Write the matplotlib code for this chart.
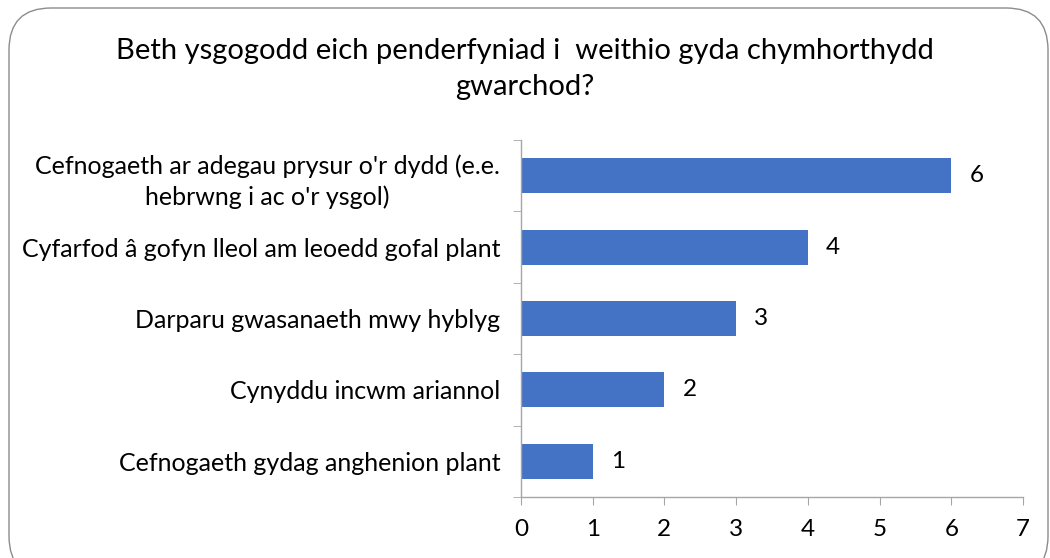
import matplotlib
matplotlib.use("Agg")
import matplotlib.pyplot as plt
from matplotlib.patches import FancyBboxPatch

categories = [
    "Cefnogaeth ar adegau prysur o'r dydd (e.e.\nhebrwng i ac o'r ysgol)",
    "Cyfarfod â gofyn lleol am leoedd gofal plant",
    "Darparu gwasanaeth mwy hyblyg",
    "Cynyddu incwm ariannol",
    "Cefnogaeth gydag anghenion plant",
]
values = [6, 4, 3, 2, 1]
title = "Beth ysgogodd eich penderfyniad i  weithio gyda chymhorthydd\ngwarchod?"
xticks = [0, 1, 2, 3, 4, 5, 6, 7]

plt.rcParams['font.family'] = ['Lato', 'DejaVu Sans']

W, H = 1050, 558
fig = plt.figure(figsize=(W / 100, H / 100), dpi=100)

# rounded border
border = FancyBboxPatch((9 / W, -20 / H), (1048 - 9) / W, (558 - 8 + 20) / H,
                        boxstyle="round,pad=0,rounding_size=0.04",
                        transform=fig.transFigure, facecolor="none",
                        edgecolor="#8c8c8c", linewidth=1.0, mutation_aspect=W / H,
                        zorder=-5)
fig.patches.append(border)

left, right = 521 / W, 1023 / W
bottom, top = 1 - 497 / H, 1 - 140 / H
ax = fig.add_axes([left, bottom, right - left, top - bottom])
ax.set_facecolor("none")

ypos = list(range(len(categories)))[::-1]
bars = ax.barh(ypos, values, height=0.49, color="#4472C4")
ax.set_xlim(0, 7)
ax.set_ylim(-0.5, len(categories) - 0.5)
ax.set_xticks(xticks)
ax.set_xticklabels([str(t) for t in xticks], fontsize=17.5)
ax.set_yticks(ypos)
ax.set_yticklabels(categories, fontsize=18, ha="right", multialignment="center",
                   linespacing=1.4)
ax.set_yticks([i - 0.5 for i in range(len(categories) + 1)], minor=True)
ax.tick_params(axis="y", which="major", length=0, pad=15)
ax.tick_params(axis="y", which="minor", length=6, color="#a6a6a6", direction="out")
ax.tick_params(axis="x", length=6, color="#a6a6a6", direction="out", pad=10)

for s in ["top", "right"]:
    ax.spines[s].set_visible(False)
for s in ["left", "bottom"]:
    ax.spines[s].set_color("#a6a6a6")
    ax.spines[s].set_linewidth(1.0)

for y, v in zip(ypos, values):
    ax.annotate(str(v), (v, y), xytext=(13, 0), textcoords="offset points",
                va="center", ha="left", fontsize=17.5, color="black")

fig.text(0.5, 1 - 69 / H, title, ha="center", va="center", fontsize=21,
         linespacing=1.5)

fig.savefig("out.png", dpi=100)
